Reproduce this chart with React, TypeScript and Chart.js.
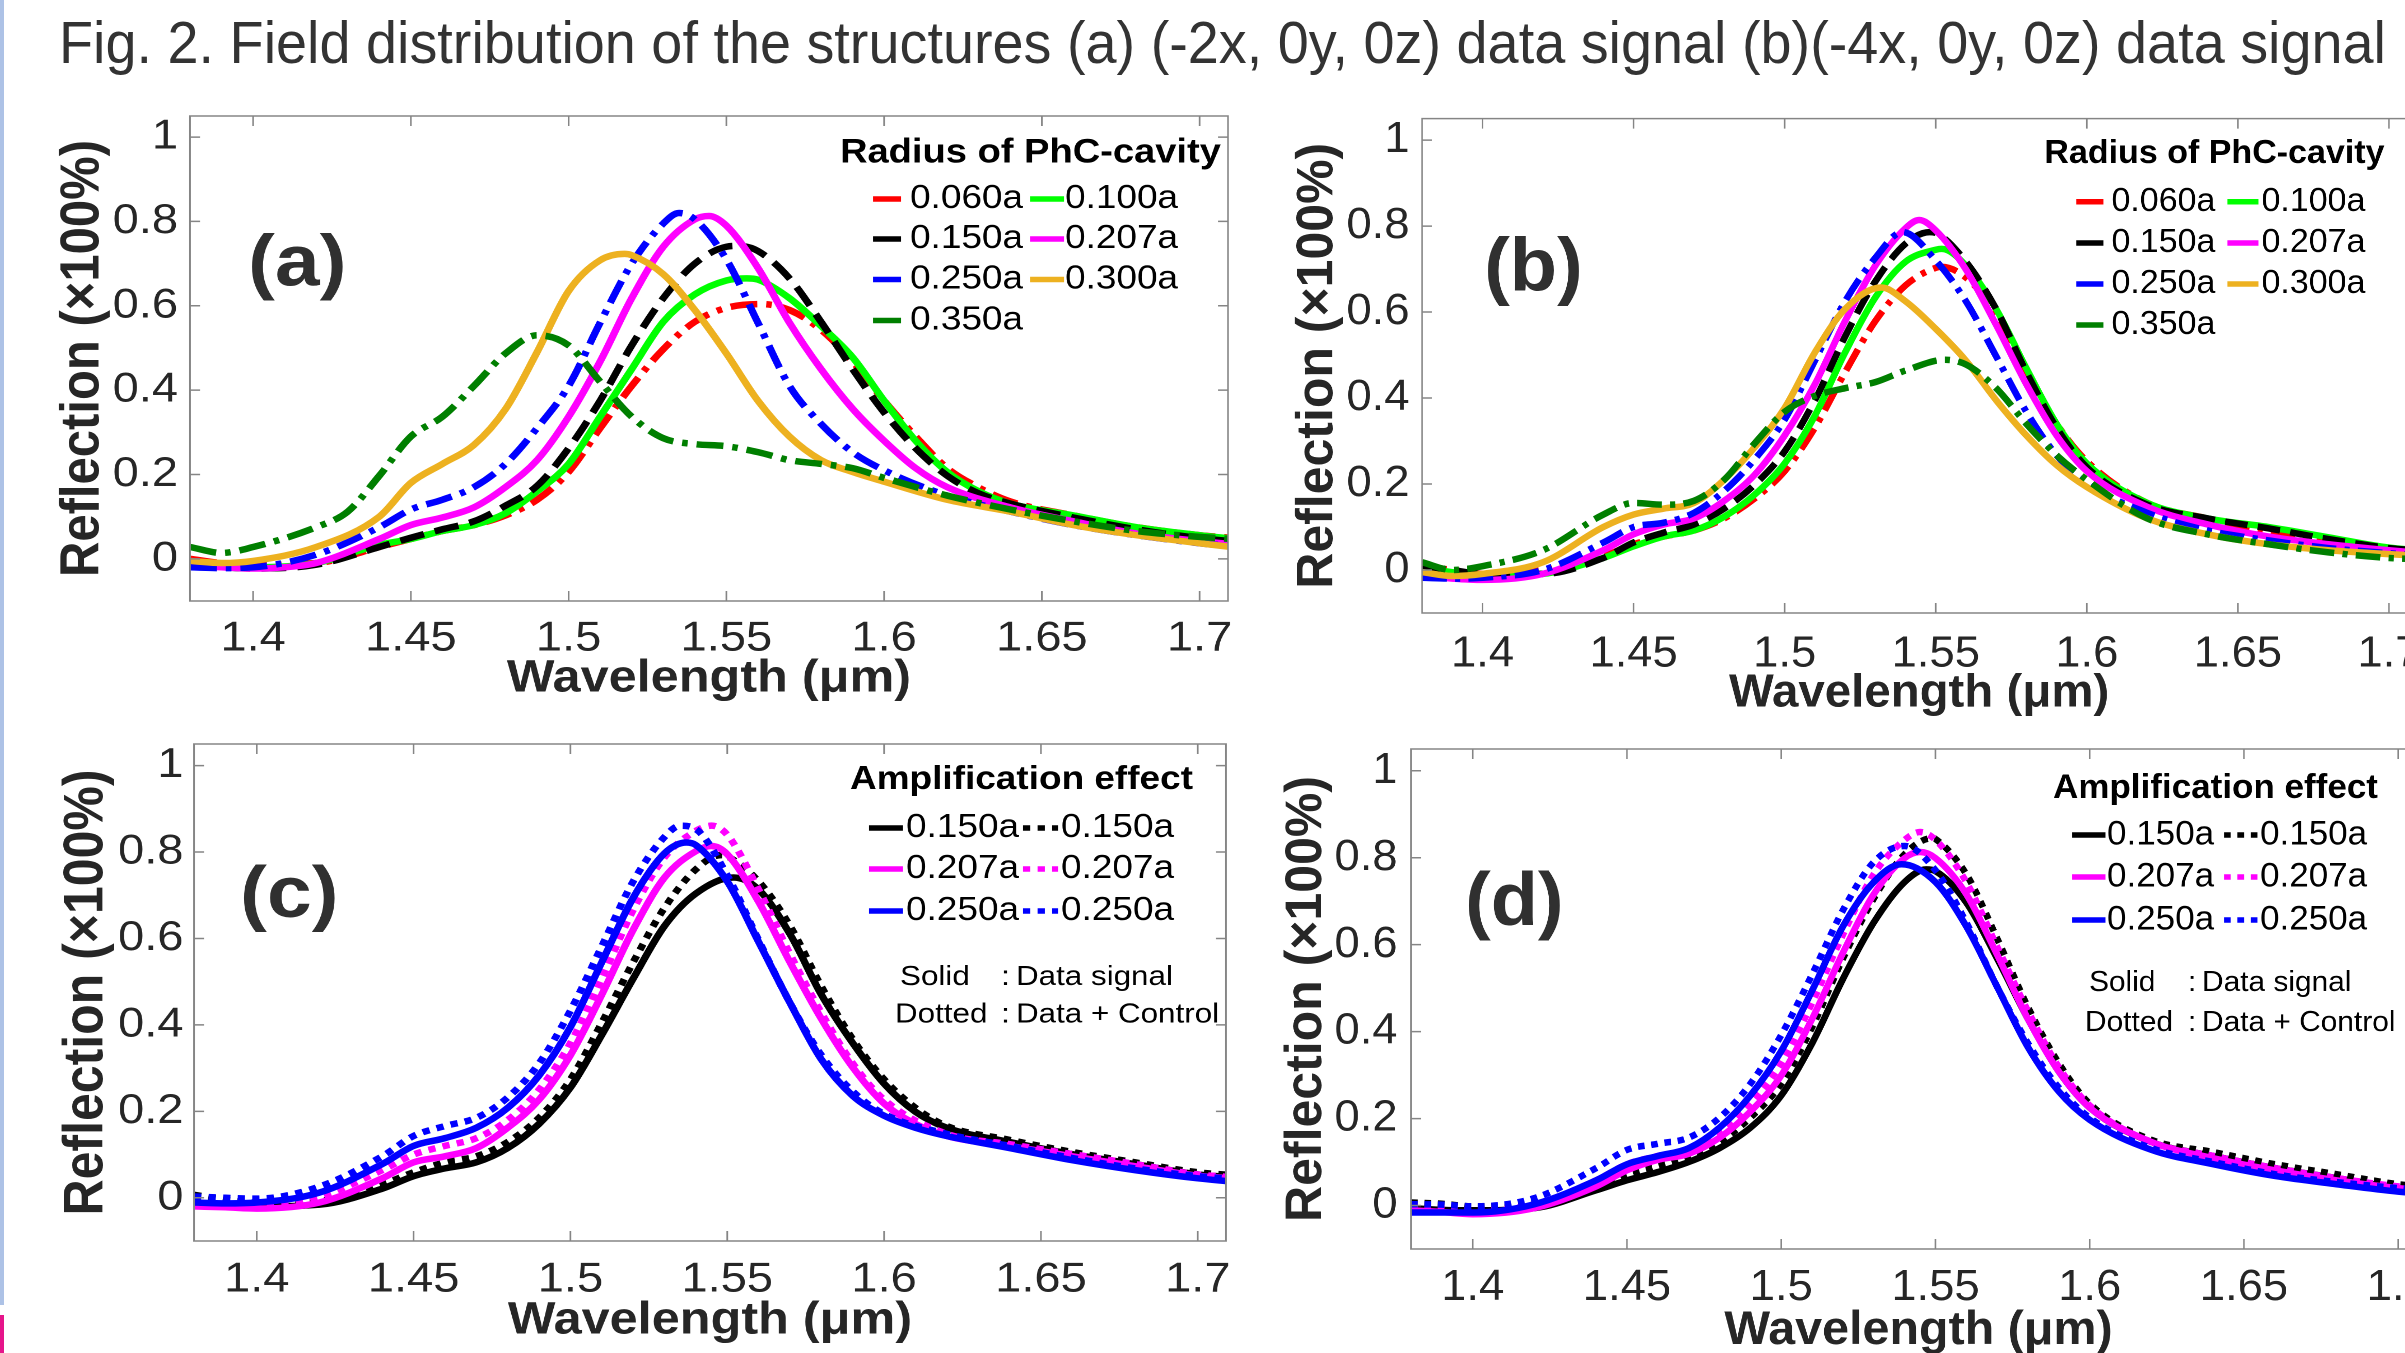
import React, { useEffect, useRef } from 'react';
import { Chart, registerables } from 'chart.js';
Chart.register(...registerables);

// ---------- data ----------
const FIG_TITLE = 'Fig. 2. Field distribution of the structures (a) (-2x, 0y, 0z) data signal (b)(-4x, 0y, 0z) data signal';
const X_TITLE = 'Wavelength (μm)';
const Y_TITLE = 'Reflection (×100%)';
const WAVE_TICKS = [1.4, 1.45, 1.5, 1.55, 1.6, 1.65, 1.7];
const REFL_TICKS = [0, 0.2, 0.4, 0.6, 0.8, 1];
const X_MIN = 1.38, X_MAX = 1.709, Y_MIN = -0.1, Y_MAX = 1.05;
const RADII = ['0.060a', '0.100a', '0.150a', '0.207a', '0.250a', '0.300a', '0.350a'];
const AMP_RADII = ['0.150a', '0.207a', '0.250a'];
const LEG_RADIUS = 'Radius of PhC-cavity';
const LEG_AMP = 'Amplification effect';

type P = [number, number][];

// (a) (-2x, 0y, 0z)
const A_060: P = [[1.38,0.0],[1.39,-0.01],[1.40,-0.014],[1.42,-0.01],[1.44,0.028],[1.45,0.047],[1.46,0.066],[1.47,0.08],[1.48,0.103],[1.49,0.14],[1.50,0.206],[1.51,0.31],[1.52,0.41],[1.53,0.497],[1.54,0.562],[1.55,0.595],[1.561,0.604],[1.57,0.59],[1.58,0.543],[1.59,0.468],[1.60,0.375],[1.61,0.29],[1.62,0.215],[1.63,0.169],[1.64,0.136],[1.66,0.103],[1.68,0.075],[1.70,0.056],[1.71,0.05]];
const A_100: P = [[1.38,-0.01],[1.39,-0.015],[1.40,-0.02],[1.42,-0.01],[1.44,0.033],[1.45,0.047],[1.46,0.066],[1.47,0.08],[1.48,0.108],[1.49,0.16],[1.50,0.225],[1.51,0.337],[1.52,0.45],[1.53,0.562],[1.54,0.627],[1.55,0.66],[1.5565,0.665],[1.56,0.662],[1.57,0.618],[1.58,0.552],[1.59,0.478],[1.60,0.375],[1.61,0.28],[1.62,0.206],[1.63,0.16],[1.64,0.131],[1.66,0.103],[1.68,0.075],[1.70,0.056],[1.71,0.048]];
const A_150: P = [[1.38,-0.014],[1.39,-0.02],[1.40,-0.023],[1.42,-0.014],[1.44,0.028],[1.45,0.05],[1.46,0.07],[1.47,0.089],[1.48,0.126],[1.49,0.173],[1.50,0.262],[1.51,0.375],[1.52,0.506],[1.53,0.618],[1.54,0.70],[1.55,0.74],[1.554,0.742],[1.56,0.73],[1.57,0.665],[1.58,0.562],[1.59,0.45],[1.60,0.347],[1.61,0.262],[1.62,0.197],[1.63,0.155],[1.64,0.131],[1.66,0.098],[1.68,0.07],[1.70,0.049],[1.71,0.042]];
const A_207: P = [[1.38,-0.017],[1.39,-0.02],[1.40,-0.023],[1.41,-0.02],[1.42,-0.01],[1.44,0.047],[1.45,0.08],[1.46,0.098],[1.47,0.122],[1.48,0.17],[1.49,0.234],[1.50,0.337],[1.51,0.468],[1.52,0.618],[1.53,0.74],[1.54,0.805],[1.5445,0.813],[1.55,0.79],[1.56,0.69],[1.57,0.56],[1.58,0.45],[1.59,0.356],[1.60,0.28],[1.61,0.215],[1.62,0.17],[1.64,0.122],[1.66,0.089],[1.68,0.06],[1.70,0.042],[1.71,0.035]];
const A_250: P = [[1.38,-0.02],[1.39,-0.022],[1.40,-0.02],[1.42,0.01],[1.44,0.075],[1.45,0.117],[1.46,0.14],[1.47,0.17],[1.48,0.225],[1.49,0.31],[1.50,0.41],[1.51,0.56],[1.52,0.70],[1.53,0.795],[1.535,0.82],[1.54,0.805],[1.55,0.71],[1.56,0.56],[1.57,0.41],[1.58,0.32],[1.59,0.253],[1.60,0.21],[1.62,0.15],[1.64,0.112],[1.66,0.08],[1.68,0.056],[1.70,0.037],[1.71,0.03]];
const A_300: P = [[1.38,-0.005],[1.39,-0.01],[1.40,-0.005],[1.42,0.028],[1.44,0.10],[1.45,0.18],[1.46,0.225],[1.47,0.27],[1.48,0.355],[1.49,0.49],[1.50,0.635],[1.51,0.708],[1.5177,0.723],[1.52,0.72],[1.53,0.675],[1.54,0.59],[1.55,0.487],[1.56,0.375],[1.57,0.29],[1.58,0.234],[1.59,0.206],[1.60,0.183],[1.62,0.14],[1.64,0.112],[1.66,0.08],[1.68,0.056],[1.70,0.037],[1.71,0.028]];
const A_350: P = [[1.38,0.028],[1.39,0.014],[1.40,0.028],[1.42,0.075],[1.43,0.112],[1.44,0.197],[1.45,0.29],[1.46,0.337],[1.47,0.41],[1.48,0.487],[1.49,0.53],[1.50,0.506],[1.51,0.42],[1.52,0.337],[1.53,0.286],[1.54,0.272],[1.55,0.267],[1.56,0.253],[1.57,0.234],[1.58,0.225],[1.59,0.215],[1.60,0.192],[1.62,0.15],[1.64,0.117],[1.66,0.089],[1.68,0.066],[1.70,0.052],[1.71,0.047]];

// (b) (-4x, 0y, 0z)
const B_060: P = [[1.38,0.009],[1.39,0.0],[1.40,-0.009],[1.42,0.0],[1.44,0.032],[1.45,0.06],[1.46,0.078],[1.47,0.092],[1.48,0.12],[1.49,0.166],[1.50,0.23],[1.51,0.331],[1.52,0.46],[1.53,0.579],[1.54,0.662],[1.55,0.703],[1.552,0.705],[1.56,0.68],[1.57,0.598],[1.58,0.46],[1.59,0.34],[1.60,0.253],[1.62,0.156],[1.64,0.12],[1.66,0.092],[1.68,0.069],[1.70,0.051],[1.71,0.045]];
const B_100: P = [[1.38,0.005],[1.39,-0.005],[1.40,-0.014],[1.42,-0.009],[1.44,0.028],[1.45,0.055],[1.46,0.078],[1.47,0.092],[1.48,0.124],[1.49,0.175],[1.50,0.248],[1.51,0.359],[1.52,0.506],[1.53,0.634],[1.54,0.717],[1.55,0.745],[1.552,0.747],[1.56,0.708],[1.57,0.607],[1.58,0.469],[1.59,0.34],[1.60,0.248],[1.62,0.156],[1.64,0.12],[1.66,0.1],[1.68,0.076],[1.70,0.052],[1.71,0.046]];
const B_150: P = [[1.38,0.009],[1.39,0.0],[1.40,-0.009],[1.42,-0.009],[1.44,0.028],[1.45,0.064],[1.46,0.087],[1.47,0.106],[1.48,0.143],[1.49,0.198],[1.50,0.276],[1.51,0.395],[1.52,0.543],[1.53,0.671],[1.54,0.759],[1.548,0.786],[1.55,0.784],[1.56,0.717],[1.57,0.607],[1.58,0.46],[1.59,0.331],[1.60,0.239],[1.62,0.152],[1.64,0.12],[1.66,0.097],[1.68,0.072],[1.70,0.051],[1.71,0.045]];
const B_207: P = [[1.38,-0.014],[1.39,-0.02],[1.40,-0.023],[1.42,-0.009],[1.44,0.046],[1.45,0.083],[1.46,0.106],[1.47,0.12],[1.48,0.161],[1.49,0.221],[1.50,0.313],[1.51,0.432],[1.52,0.579],[1.53,0.708],[1.54,0.795],[1.5445,0.814],[1.55,0.79],[1.56,0.699],[1.57,0.57],[1.58,0.432],[1.59,0.313],[1.60,0.23],[1.62,0.147],[1.64,0.106],[1.66,0.078],[1.68,0.06],[1.70,0.046],[1.71,0.04]];
const B_250: P = [[1.38,-0.018],[1.39,-0.02],[1.40,-0.018],[1.42,0.0],[1.44,0.064],[1.45,0.10],[1.46,0.11],[1.47,0.133],[1.48,0.184],[1.49,0.257],[1.50,0.35],[1.51,0.487],[1.52,0.625],[1.53,0.726],[1.539,0.786],[1.55,0.72],[1.56,0.625],[1.57,0.497],[1.58,0.368],[1.59,0.267],[1.60,0.202],[1.62,0.133],[1.64,0.092],[1.66,0.069],[1.68,0.051],[1.70,0.039],[1.71,0.034]];
const B_300: P = [[1.38,-0.005],[1.39,-0.014],[1.40,-0.009],[1.42,0.018],[1.44,0.10],[1.45,0.129],[1.46,0.143],[1.47,0.156],[1.48,0.21],[1.49,0.285],[1.50,0.377],[1.51,0.506],[1.52,0.607],[1.532,0.657],[1.54,0.625],[1.55,0.561],[1.56,0.487],[1.57,0.395],[1.58,0.313],[1.59,0.244],[1.60,0.193],[1.62,0.12],[1.64,0.083],[1.66,0.06],[1.68,0.046],[1.70,0.037],[1.71,0.033]];
const B_350: P = [[1.38,0.018],[1.39,0.0],[1.40,0.009],[1.42,0.046],[1.44,0.129],[1.45,0.156],[1.46,0.152],[1.47,0.161],[1.48,0.21],[1.49,0.294],[1.50,0.368],[1.51,0.405],[1.52,0.423],[1.53,0.437],[1.54,0.464],[1.553,0.489],[1.56,0.478],[1.57,0.423],[1.58,0.34],[1.59,0.267],[1.60,0.21],[1.62,0.12],[1.64,0.083],[1.66,0.06],[1.68,0.041],[1.70,0.028],[1.71,0.025]];

// (c) amplification, (-2x)
const C_150S: P = [[1.38,-0.011],[1.39,-0.016],[1.40,-0.02],[1.42,-0.016],[1.44,0.021],[1.45,0.05],[1.46,0.068],[1.47,0.082],[1.48,0.115],[1.49,0.171],[1.50,0.255],[1.51,0.377],[1.52,0.507],[1.53,0.629],[1.54,0.704],[1.552,0.741],[1.56,0.713],[1.57,0.61],[1.58,0.47],[1.59,0.358],[1.60,0.264],[1.61,0.199],[1.62,0.162],[1.64,0.129],[1.66,0.101],[1.68,0.078],[1.70,0.054],[1.71,0.048]];
const C_150D: P = [[1.38,0.007],[1.39,-0.005],[1.40,-0.011],[1.42,-0.007],[1.44,0.031],[1.45,0.059],[1.46,0.082],[1.47,0.096],[1.48,0.129],[1.49,0.185],[1.50,0.274],[1.51,0.405],[1.52,0.545],[1.53,0.671],[1.54,0.76],[1.548,0.793],[1.55,0.79],[1.56,0.732],[1.57,0.629],[1.58,0.489],[1.59,0.367],[1.60,0.274],[1.61,0.208],[1.62,0.166],[1.64,0.134],[1.66,0.106],[1.68,0.082],[1.70,0.059],[1.71,0.053]];
const C_207S: P = [[1.38,-0.02],[1.39,-0.022],[1.40,-0.025],[1.42,-0.011],[1.44,0.045],[1.45,0.082],[1.46,0.096],[1.47,0.115],[1.48,0.162],[1.49,0.227],[1.50,0.33],[1.51,0.47],[1.52,0.62],[1.53,0.741],[1.54,0.802],[1.545,0.814],[1.55,0.795],[1.56,0.685],[1.57,0.545],[1.58,0.414],[1.59,0.302],[1.60,0.218],[1.61,0.171],[1.62,0.143],[1.64,0.12],[1.66,0.096],[1.68,0.073],[1.70,0.051],[1.71,0.045]];
const C_207D: P = [[1.38,-0.011],[1.39,-0.014],[1.40,-0.016],[1.42,0.003],[1.44,0.064],[1.45,0.10],[1.46,0.12],[1.47,0.138],[1.48,0.18],[1.49,0.25],[1.50,0.358],[1.51,0.507],[1.52,0.666],[1.53,0.788],[1.54,0.849],[1.545,0.861],[1.55,0.84],[1.56,0.713],[1.57,0.564],[1.58,0.428],[1.59,0.311],[1.60,0.227],[1.62,0.148],[1.64,0.124],[1.66,0.101],[1.68,0.078],[1.70,0.054],[1.71,0.048]];
const C_250S: P = [[1.38,-0.011],[1.39,-0.013],[1.40,-0.011],[1.42,0.012],[1.44,0.078],[1.45,0.12],[1.46,0.138],[1.47,0.162],[1.48,0.208],[1.49,0.283],[1.50,0.395],[1.51,0.545],[1.52,0.694],[1.53,0.797],[1.537,0.822],[1.54,0.816],[1.55,0.732],[1.56,0.592],[1.57,0.451],[1.58,0.32],[1.59,0.236],[1.60,0.19],[1.61,0.162],[1.62,0.143],[1.64,0.115],[1.66,0.087],[1.68,0.064],[1.70,0.045],[1.71,0.038]];
const C_250D: P = [[1.38,0.003],[1.39,0.0],[1.40,-0.002],[1.42,0.026],[1.44,0.096],[1.45,0.143],[1.46,0.166],[1.47,0.185],[1.48,0.232],[1.49,0.311],[1.50,0.433],[1.51,0.582],[1.52,0.732],[1.53,0.835],[1.535,0.861],[1.54,0.853],[1.55,0.746],[1.56,0.596],[1.57,0.451],[1.58,0.33],[1.59,0.246],[1.60,0.194],[1.62,0.148],[1.64,0.12],[1.66,0.092],[1.68,0.068],[1.70,0.05],[1.71,0.044]];

// (d) amplification, (-4x)
const D_150S: P = [[1.38,-0.006],[1.39,-0.01],[1.40,-0.011],[1.42,-0.006],[1.44,0.035],[1.45,0.058],[1.46,0.077],[1.47,0.10],[1.48,0.132],[1.49,0.179],[1.50,0.253],[1.51,0.373],[1.52,0.521],[1.53,0.651],[1.54,0.744],[1.547,0.773],[1.55,0.769],[1.56,0.697],[1.57,0.568],[1.58,0.429],[1.59,0.308],[1.60,0.225],[1.62,0.146],[1.64,0.114],[1.66,0.086],[1.68,0.063],[1.70,0.04],[1.71,0.034]];
const D_150D: P = [[1.38,0.007],[1.39,0.004],[1.40,-0.002],[1.42,0.003],[1.44,0.044],[1.45,0.072],[1.46,0.09],[1.47,0.109],[1.48,0.146],[1.49,0.202],[1.50,0.28],[1.51,0.41],[1.52,0.568],[1.53,0.706],[1.54,0.808],[1.549,0.845],[1.55,0.843],[1.56,0.762],[1.57,0.614],[1.58,0.456],[1.59,0.327],[1.60,0.234],[1.62,0.151],[1.64,0.123],[1.66,0.095],[1.68,0.072],[1.70,0.049],[1.71,0.043]];
const D_207S: P = [[1.38,-0.011],[1.39,-0.015],[1.40,-0.02],[1.42,-0.006],[1.44,0.044],[1.45,0.081],[1.46,0.105],[1.47,0.119],[1.48,0.156],[1.49,0.216],[1.50,0.299],[1.51,0.429],[1.52,0.581],[1.53,0.716],[1.54,0.799],[1.545,0.813],[1.55,0.799],[1.56,0.716],[1.57,0.577],[1.58,0.429],[1.59,0.308],[1.60,0.225],[1.62,0.146],[1.64,0.109],[1.66,0.081],[1.68,0.058],[1.70,0.04],[1.71,0.034]];
const D_207D: P = [[1.38,-0.002],[1.39,-0.008],[1.40,-0.011],[1.42,0.003],[1.44,0.058],[1.45,0.095],[1.46,0.114],[1.47,0.128],[1.48,0.169],[1.49,0.234],[1.50,0.327],[1.51,0.466],[1.52,0.623],[1.53,0.762],[1.54,0.841],[1.545,0.859],[1.55,0.841],[1.56,0.744],[1.57,0.595],[1.58,0.447],[1.59,0.318],[1.60,0.23],[1.62,0.146],[1.64,0.114],[1.66,0.086],[1.68,0.063],[1.70,0.044],[1.71,0.038]];
const D_250S: P = [[1.38,-0.016],[1.39,-0.016],[1.40,-0.016],[1.42,0.003],[1.44,0.058],[1.45,0.095],[1.46,0.114],[1.47,0.132],[1.48,0.179],[1.49,0.253],[1.50,0.355],[1.51,0.494],[1.52,0.642],[1.53,0.744],[1.539,0.785],[1.55,0.744],[1.56,0.642],[1.57,0.503],[1.58,0.364],[1.59,0.262],[1.60,0.197],[1.62,0.128],[1.64,0.095],[1.66,0.068],[1.68,0.049],[1.70,0.032],[1.71,0.027]];
const D_250D: P = [[1.38,0.003],[1.39,0.002],[1.40,-0.002],[1.42,0.017],[1.44,0.086],[1.45,0.128],[1.46,0.142],[1.47,0.156],[1.48,0.202],[1.49,0.28],[1.50,0.392],[1.51,0.531],[1.52,0.679],[1.53,0.79],[1.54,0.827],[1.55,0.771],[1.56,0.651],[1.57,0.503],[1.58,0.373],[1.59,0.271],[1.60,0.202],[1.62,0.132],[1.64,0.1],[1.66,0.072],[1.68,0.054],[1.70,0.04],[1.71,0.035]];

// ---------- styles ----------
const FONT = "'Liberation Sans', Arial, Helvetica, sans-serif";
const TEXT = '#262626';
const AXIS = '#858585';
const LINE_W = 6.5;
const RED = '#ff0000', GREEN = '#00ff00', BLACK = '#000000', MAGENTA = '#ff00ff', BLUE = '#0000ff', ORANGE = '#edb120', DKGREEN = '#007f00';
const SOLID: number[] = [];
const DASH = [22, 10];
const DASHDOT = [24, 8, 5, 8];
const DOT = [6.5, 6.5];

const seriesAB = (d: P[]) => [
  { label: RADII[0], data: d[0], color: RED, dash: DASHDOT },
  { label: RADII[1], data: d[1], color: GREEN, dash: SOLID },
  { label: RADII[2], data: d[2], color: BLACK, dash: DASH },
  { label: RADII[3], data: d[3], color: MAGENTA, dash: SOLID },
  { label: RADII[4], data: d[4], color: BLUE, dash: DASHDOT },
  { label: RADII[5], data: d[5], color: ORANGE, dash: SOLID },
  { label: RADII[6], data: d[6], color: DKGREEN, dash: DASHDOT },
];
const seriesCD = (d: P[]) => [
  { label: AMP_RADII[0], data: d[0], color: BLACK, dash: SOLID },
  { label: AMP_RADII[0], data: d[1], color: BLACK, dash: DOT },
  { label: AMP_RADII[1], data: d[2], color: MAGENTA, dash: SOLID },
  { label: AMP_RADII[1], data: d[3], color: MAGENTA, dash: DOT },
  { label: AMP_RADII[2], data: d[4], color: BLUE, dash: SOLID },
  { label: AMP_RADII[2], data: d[5], color: BLUE, dash: DOT },
];

const PANELS: any[] = [
  {
    key: 'a', L: 10, T: 95, R: 1240, B: 720, s: 1.12, box: [190, 116, 1228, 601],
    tickSize: 42, xTickPad: 12.8, yTickPad: 10.7, xTitleSize: 45, xTitlePad: 14, yTitleSize: 49, yTitlePad: 36,
    label: { text: '(a)', x: 248, y: 285.6, size: 72 },
    legend: { title: LEG_RADIUS, titleX: 840, titleY: 153, titleSize: 34, itemSize: 33, rows: [199, 239, 279.5, 320.5],
      cols: [{ s0: 873, s1: 901, tx: 910 }, { s0: 1030, s1: 1064, tx: 1065 }], dashed: false },
    notes: [],
    series: seriesAB([A_060, A_100, A_150, A_207, A_250, A_300, A_350]),
  },
  {
    key: 'b', L: 1255, T: 95, R: 2430, B: 730, s: 1.03, box: [1422, 118.6, 2415.6, 613],
    tickSize: 44, xTickPad: 15, yTickPad: 12.2, xTitleSize: 46, xTitlePad: 8.4, yTitleSize: 50, yTitlePad: 31.4,
    label: { text: '(b)', x: 1484, y: 290.4, size: 75 },
    legend: { title: LEG_RADIUS, titleX: 2044, titleY: 154, titleSize: 33, itemSize: 33, rows: [201.7, 243, 284, 325],
      cols: [{ s0: 2076, s1: 2103, tx: 2111 }, { s0: 2227, s1: 2258, tx: 2261 }], dashed: false },
    notes: [],
    series: seriesAB([B_060, B_100, B_150, B_207, B_250, B_300, B_350]),
  },
  {
    key: 'c', L: 10, T: 725, R: 1240, B: 1353, s: 1.12, box: [194, 744, 1226, 1241],
    tickSize: 42, xTickPad: 13.8, yTickPad: 9.4, xTitleSize: 45, xTitlePad: 5, yTitleSize: 50, yTitlePad: 38.6,
    label: { text: '(c)', x: 240, y: 917, size: 72 },
    legend: { title: LEG_AMP, titleX: 850, titleY: 780, titleSize: 33, itemSize: 33, rows: [828, 869, 911],
      cols: [{ s0: 869, s1: 903, tx: 906 }, { s0: 1023, s1: 1058, tx: 1061 }], dashed: true },
    notes: [
      { y: 977.5, size: 28, items: [['Solid', 900], [':', 1001], ['Data signal', 1016]] },
      { y: 1015, size: 28, items: [['Dotted', 895], [':', 1001], ['Data + Control', 1016]] },
    ],
    series: seriesCD([C_150S, C_150D, C_207S, C_207D, C_250S, C_250D]),
  },
  {
    key: 'd', L: 1250, T: 725, R: 2440, B: 1370, s: 1.03, box: [1411, 749, 2426, 1249],
    tickSize: 44, xTickPad: 12.6, yTickPad: 13.1, xTitleSize: 47, xTitlePad: 10.8, yTitleSize: 50, yTitlePad: 25.3,
    label: { text: '(d)', x: 1465, y: 925, size: 75 },
    legend: { title: LEG_AMP, titleX: 2053, titleY: 788.6, titleSize: 34, itemSize: 34, rows: [835, 877, 920],
      cols: [{ s0: 2072, s1: 2105.5, tx: 2107 }, { s0: 2224, s1: 2258, tx: 2260 }], dashed: true },
    notes: [
      { y: 983, size: 29, items: [['Solid', 2089], [':', 2188], ['Data signal', 2202]] },
      { y: 1022.8, size: 29, items: [['Dotted', 2085], [':', 2188], ['Data + Control', 2202]] },
    ],
    series: seriesCD([D_150S, D_150D, D_207S, D_207D, D_250S, D_250D]),
  },
];

const fmt = (v: number) => String(Number(Number(v).toFixed(3)));

function makeOverlay(p: any) {
  return {
    id: 'overlay_' + p.key,
    afterDatasetsDraw(chart: any) {
      const { ctx, chartArea: ca, scales } = chart;
      const X = (xp: number) => (xp - p.L) / p.s;
      const Y = (yp: number) => yp - p.T;
      ctx.save();
      // frame and inward ticks on all four sides
      ctx.setLineDash([]);
      ctx.strokeStyle = AXIS;
      ctx.lineWidth = 1.5;
      ctx.lineCap = 'butt';
      ctx.beginPath();
      const tl = 10;
      for (const t of scales.x.ticks) {
        const px = scales.x.getPixelForValue(t.value);
        ctx.moveTo(px, ca.bottom); ctx.lineTo(px, ca.bottom - tl);
        ctx.moveTo(px, ca.top); ctx.lineTo(px, ca.top + tl);
      }
      for (const t of scales.y.ticks) {
        const py = scales.y.getPixelForValue(t.value);
        ctx.moveTo(ca.left, py); ctx.lineTo(ca.left + tl / p.s, py);
        ctx.moveTo(ca.right, py); ctx.lineTo(ca.right - tl / p.s, py);
      }
      ctx.stroke();
      ctx.strokeRect(ca.left, ca.top, ca.right - ca.left, ca.bottom - ca.top);

      // panel label
      ctx.fillStyle = '#303030';
      ctx.textAlign = 'left';
      ctx.textBaseline = 'alphabetic';
      ctx.font = `bold ${p.label.size}px ${FONT}`;
      ctx.fillText(p.label.text, X(p.label.x), Y(p.label.y));

      // legend
      const lg = p.legend;
      ctx.fillStyle = '#000000';
      ctx.textBaseline = 'middle';
      ctx.font = `bold ${lg.titleSize}px ${FONT}`;
      ctx.fillText(lg.title, X(lg.titleX), Y(lg.titleY));
      ctx.font = `${lg.itemSize}px ${FONT}`;
      chart.data.datasets.forEach((ds: any, i: number) => {
        const row = Math.floor(i / 2), col = i % 2;
        const y = Y(lg.rows[row]);
        const c = lg.cols[col];
        ctx.strokeStyle = ds.borderColor;
        ctx.lineWidth = 5.5;
        ctx.setLineDash(lg.dashed ? (ds.borderDash || []) : []);
        ctx.beginPath();
        ctx.moveTo(X(c.s0), y);
        ctx.lineTo(X(c.s1), y);
        ctx.stroke();
        ctx.fillText(ds.label, X(c.tx), y);
      });
      ctx.setLineDash([]);
      for (const n of p.notes) {
        ctx.font = `${n.size}px ${FONT}`;
        for (const [t, x] of n.items) ctx.fillText(t, X(x), Y(n.y));
      }
      ctx.restore();
    },
  };
}

function Panel({ p }: { p: any }) {
  const ref = useRef<HTMLCanvasElement>(null);
  const W = (p.R - p.L) / p.s;
  const H = p.B - p.T;
  useEffect(() => {
    const yAxisWidth = (p.box[0] - p.L) / p.s;
    const padRight = (p.R - p.box[2]) / p.s;
    const padTop = p.box[1] - p.T;
    const xAxisHeight = p.B - p.box[3];
    const chart = new Chart(ref.current as HTMLCanvasElement, {
      type: 'line',
      data: {
        datasets: p.series.map((sr: any, i: number) => ({
          label: sr.label,
          data: sr.data.map(([x, y]: [number, number]) => ({ x, y })),
          borderColor: sr.color,
          backgroundColor: sr.color,
          borderWidth: LINE_W,
          borderDash: sr.dash,
          borderCapStyle: 'butt',
          borderJoinStyle: 'round',
          pointRadius: 0,
          pointHoverRadius: 0,
          fill: false,
          cubicInterpolationMode: 'monotone',
          clip: 0,
          order: -i,
        })),
      },
      options: {
        responsive: true,
        maintainAspectRatio: false,
        animation: false,
        devicePixelRatio: 2,
        events: [],
        layout: { padding: { top: padTop, right: padRight, left: 0, bottom: 0 } },
        plugins: { legend: { display: false }, tooltip: { enabled: false }, title: { display: false } },
        scales: {
          x: {
            type: 'linear', min: X_MIN, max: X_MAX,
            afterBuildTicks: (sc: any) => { sc.ticks = WAVE_TICKS.map((v) => ({ value: v })); },
            afterFit: (sc: any) => { sc.height = xAxisHeight; sc.paddingLeft = 0; sc.paddingRight = 0; },
            ticks: { callback: (v: any) => fmt(v), font: { family: FONT, size: p.tickSize }, color: TEXT, padding: p.xTickPad, autoSkip: false, maxRotation: 0, minRotation: 0 },
            grid: { display: false, drawTicks: false },
            border: { display: false },
            title: { display: true, text: X_TITLE, color: TEXT, font: { family: FONT, size: p.xTitleSize, weight: 'bold' }, padding: { top: 0, bottom: p.xTitlePad } },
          },
          y: {
            type: 'linear', min: Y_MIN, max: Y_MAX,
            afterBuildTicks: (sc: any) => { sc.ticks = REFL_TICKS.map((v) => ({ value: v })); },
            afterFit: (sc: any) => { sc.width = yAxisWidth; sc.paddingTop = 0; sc.paddingBottom = 0; },
            ticks: { callback: (v: any) => fmt(v), font: { family: FONT, size: p.tickSize }, color: TEXT, padding: p.yTickPad, autoSkip: false },
            grid: { display: false, drawTicks: false },
            border: { display: false },
            title: { display: true, text: Y_TITLE, color: TEXT, font: { family: FONT, size: p.yTitleSize, weight: 'bold' }, padding: { top: p.yTitlePad, bottom: 0 } },
          },
        },
      } as any,
      plugins: [makeOverlay(p)],
    });
    return () => chart.destroy();
  }, []);
  return (
    <div style={{ position: 'absolute', left: p.L, top: p.T, width: W, height: H, transform: `scaleX(${p.s})`, transformOrigin: '0 0' }}>
      <canvas ref={ref} />
    </div>
  );
}

export default function App() {
  return (
    <div style={{ position: 'fixed', left: 0, top: 0, width: 2405, height: 1353, overflow: 'hidden', background: '#ffffff' }}>
      <div style={{ position: 'absolute', left: 0, top: 0, width: 4, height: 1305, background: '#adc2e6' }} />
      <div style={{ position: 'absolute', left: 0, top: 1315, width: 4, height: 38, background: '#e5158a' }} />
      <div style={{ position: 'absolute', left: 59, top: 13, fontFamily: FONT, fontSize: 60, lineHeight: '60px', color: '#333333', whiteSpace: 'nowrap', transform: 'scaleX(0.93)', transformOrigin: '0 0' }}>
        {FIG_TITLE}
      </div>
      {PANELS.map((p) => <Panel key={p.key} p={p} />)}
    </div>
  );
}
